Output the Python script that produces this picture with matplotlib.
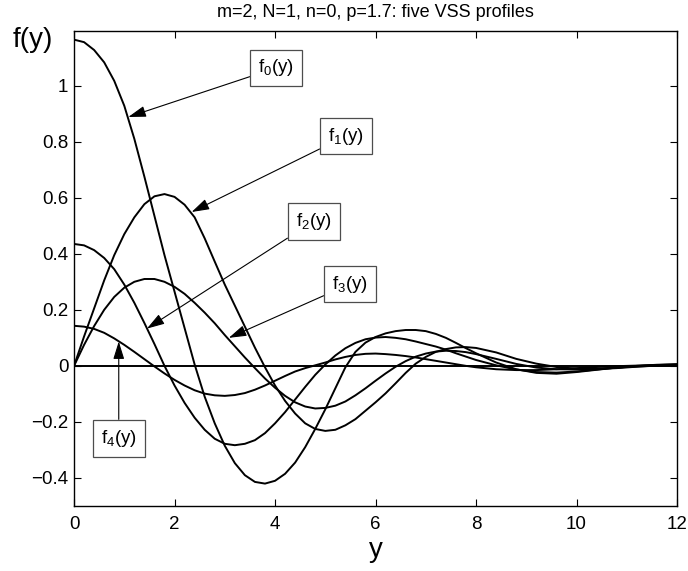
import matplotlib
matplotlib.use("Agg")
import matplotlib.pyplot as plt

plt.rcParams['font.family'] = ['Liberation Sans', 'DejaVu Sans']
plt.rcParams['mathtext.fontset'] = 'custom'
plt.rcParams['mathtext.rm'] = 'Liberation Sans'

# values (y from 0 to 8 every 0.2, then every 0.4)
y_grid = [0.0, 0.2, 0.4, 0.6, 0.8, 1.0, 1.2, 1.4, 1.6, 1.8,
          2.0, 2.2, 2.4, 2.6, 2.8, 3.0, 3.2, 3.4, 3.6, 3.8,
          4.0, 4.2, 4.4, 4.6, 4.8, 5.0, 5.2, 5.4, 5.6, 5.8,
          6.0, 6.2, 6.4, 6.6, 6.8, 7.0, 7.2, 7.4, 7.6, 7.8,
          8.0, 8.4, 8.8, 9.2, 9.6, 10.0, 10.4, 10.8, 11.2, 11.6, 12.0]

f0 = [1.164, 1.155, 1.127, 1.083, 1.017, 0.928, 0.810, 0.675, 0.535, 0.395,
      0.265, 0.135, 0.005, -0.110, -0.205, -0.285, -0.347, -0.390, -0.414, -0.420,
      -0.410, -0.385, -0.345, -0.290, -0.225, -0.155, -0.080, -0.005, 0.050, 0.083,
      0.103, 0.116, 0.124, 0.128, 0.128, 0.124, 0.114, 0.100, 0.082, 0.063,
      0.045, 0.012, -0.012, -0.025, -0.028, -0.022, -0.014, -0.006, 0.000, 0.004, 0.006]
f1 = [0.000, 0.105, 0.205, 0.305, 0.395, 0.470, 0.530, 0.577, 0.605, 0.613,
      0.603, 0.575, 0.530, 0.455, 0.372, 0.290, 0.215, 0.140, 0.065, -0.005,
      -0.070, -0.125, -0.170, -0.205, -0.225, -0.232, -0.228, -0.212, -0.190, -0.160,
      -0.130, -0.098, -0.062, -0.025, 0.008, 0.032, 0.050, 0.060, 0.066, 0.067,
      0.064, 0.048, 0.025, 0.008, -0.004, -0.010, -0.011, -0.008, -0.003, 0.001, 0.004]
f2 = [0.435, 0.430, 0.413, 0.385, 0.345, 0.290, 0.225, 0.153, 0.078, 0.000,
      -0.070, -0.132, -0.185, -0.228, -0.260, -0.278, -0.283, -0.278, -0.265, -0.240,
      -0.205, -0.165, -0.120, -0.075, -0.032, 0.005, 0.037, 0.063, 0.082, 0.095,
      0.101, 0.103, 0.100, 0.095, 0.087, 0.078, 0.069, 0.058, 0.045, 0.033,
      0.021, 0.002, -0.013, -0.022, -0.024, -0.020, -0.013, -0.006, -0.001, 0.003, 0.005]
f3 = [0.000, 0.075, 0.142, 0.200, 0.246, 0.279, 0.300, 0.310, 0.310, 0.300,
      0.282, 0.257, 0.225, 0.190, 0.152, 0.110, 0.070, 0.030, -0.008, -0.045,
      -0.078, -0.107, -0.130, -0.145, -0.152, -0.150, -0.142, -0.127, -0.105, -0.080,
      -0.053, -0.027, -0.003, 0.017, 0.033, 0.044, 0.051, 0.054, 0.053, 0.049,
      0.042, 0.025, 0.007, -0.006, -0.012, -0.013, -0.010, -0.006, -0.002, 0.001, 0.003]
f4 = [0.143, 0.140, 0.132, 0.118, 0.098, 0.075, 0.050, 0.024, -0.002, -0.027,
      -0.050, -0.070, -0.087, -0.099, -0.105, -0.107, -0.104, -0.097, -0.085, -0.070,
      -0.053, -0.036, -0.020, -0.008, 0.002, 0.012, 0.023, 0.032, 0.039, 0.043,
      0.044, 0.042, 0.039, 0.035, 0.030, 0.024, 0.018, 0.012, 0.006, 0.000,
      -0.005, -0.012, -0.015, -0.015, -0.012, -0.008, -0.004, -0.001, 0.001, 0.003, 0.004]

labels = ['$\\mathregular{f_0(y)}$', '$\\mathregular{f_1(y)}$', '$\\mathregular{f_2(y)}$',
          '$\\mathregular{f_3(y)}$', '$\\mathregular{f_4(y)}$']
arrow_tips = [(1.08, 0.888), (2.34, 0.549), (1.45, 0.133), (3.08, 0.100), (0.89, 0.087)]
box_pos = [(4.02, 1.063), (5.41, 0.82), (4.77, 0.516), (5.49, 0.292), (0.89, -0.258)]

fig = plt.figure(figsize=(6.88, 5.71), dpi=100)
ax = fig.add_axes([0.1076, 0.1138, 0.8765, 0.832])

ax.plot([0, 12], [0, 0], color='k', lw=1.4)
for f in [f0, f1, f2, f3, f4]:
    ax.plot(y_grid, f, color='k', lw=1.4)

for lab, tip, pos in zip(labels, arrow_tips, box_pos):
    ax.annotate(lab, xy=tip, xytext=pos, ha='center', va='center', fontsize=13.5,
                bbox=dict(boxstyle='square,pad=0.42', fc='w', ec='0.3', lw=0.9),
                arrowprops=dict(arrowstyle='-|>,head_length=0.8,head_width=0.25',
                                color='k', lw=0.8, shrinkA=0, shrinkB=0))

ax.set_xlim(0, 12)
ax.set_ylim(-0.5, 1.195)
ax.set_xticks([0, 2, 4, 6, 8, 10, 12])
ax.set_yticks([-0.4, -0.2, 0, 0.2, 0.4, 0.6, 0.8, 1.0])
ax.set_yticklabels(['\u22120.4', '\u22120.2', '0', '0.2', '0.4', '0.6', '0.8', '1'])
ax.tick_params(direction='in', top=True, right=True, labelsize=13.5, length=5, width=0.8)
ax.tick_params(axis='x', pad=7)
ax.tick_params(axis='y', pad=4)
for s in ax.spines.values():
    s.set_linewidth(1.0)

ax.set_xlabel('y', fontsize=20, va='baseline')
ax.xaxis.set_label_coords(0.5, -0.107)
fig.text(13 / 688, 1 - 47 / 571, 'f(y)', fontsize=20, va='baseline')
ax.set_title('m=2, N=1, n=0, p=1.7: five VSS profiles', fontsize=13, pad=10)

fig.savefig('out.png', dpi=100)
